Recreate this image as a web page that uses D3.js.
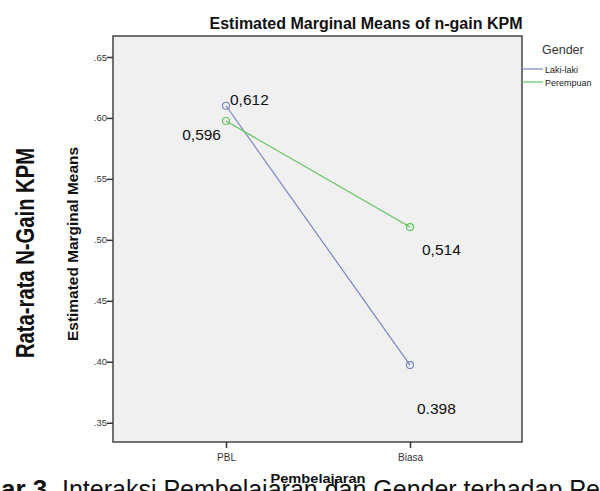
<!DOCTYPE html>
<html><head><meta charset="utf-8">
<script src="https://cdn.jsdelivr.net/npm/d3@7"></script>
<style>body{margin:0;background:#fff;}svg{display:block;font-family:"Liberation Sans",Arial,sans-serif;}</style>
</head><body><svg id="c" width="600" height="491"></svg>
<script>
const categories = ["PBL", "Biasa"];
const seriesNames = ["Laki-laki", "Perempuan"];
const lakiValues = [0.610, 0.3973];
const perempuanValues = [0.5975, 0.5105];
const lakiLabels = ["0,612", "0.398"];
const perempuanLabels = ["0,596", "0,514"];
const yTicks = [0.35, 0.40, 0.45, 0.50, 0.55, 0.60, 0.65];
const colors = ["#7a85c3", "#5fc45f"];

const svg = d3.select("#c");
const L = 113, R = 522, T = 36, B = 442;
const y = d3.scaleLinear().domain([0.3342, 0.6672]).range([B, T]);
const x = d3.scalePoint().domain(categories).range([226, 410]);

svg.append("rect").attr("x", L).attr("y", T).attr("width", R - L).attr("height", B - T)
  .attr("fill", "#f0f0f0").attr("stroke", "#444").attr("stroke-width", 1.5);

const yAxis = svg.append("g").attr("transform", `translate(${L},0)`)
  .call(d3.axisLeft(y).tickValues(yTicks).tickSize(6).tickFormat(d => d3.format(".2f")(d).replace(/^0/, "")));
yAxis.select(".domain").remove();
yAxis.selectAll("line").attr("stroke", "#333").attr("stroke-width", 1.5);
yAxis.selectAll("text").attr("font-size", 9.5).attr("fill", "#333").attr("x", -6);

const xAxis = svg.append("g").attr("transform", `translate(0,${B})`)
  .call(d3.axisBottom(x).tickSize(6));
xAxis.select(".domain").remove();
xAxis.selectAll("line").attr("stroke", "#333").attr("stroke-width", 1.5);
xAxis.selectAll("text").attr("font-size", 10).attr("fill", "#333").attr("dy", "0.95em");

const series = [lakiValues, perempuanValues];
const line = d3.line().x((d, i) => x(categories[i])).y(d => y(d));
series.forEach((vals, s) => {
  svg.append("path").datum(vals).attr("d", line).attr("fill", "none")
    .attr("stroke", colors[s]).attr("stroke-width", 1.2);
  svg.selectAll(null).data(vals).enter().append("circle")
    .attr("cx", (d, i) => x(categories[i])).attr("cy", d => y(d)).attr("r", 3.5)
    .attr("fill", "none").attr("stroke", colors[s]).attr("stroke-width", 1.2);
});

// value labels
const lab = (t, px, py, anchor) => svg.append("text").text(t).attr("x", px).attr("y", py)
  .attr("font-size", 15.5).attr("fill", "#111").attr("text-anchor", anchor || "start");
lab(lakiLabels[0], x("PBL") + 4, y(lakiValues[0]) - 1);
lab(perempuanLabels[0], x("PBL") - 5, y(perempuanValues[0]) + 19, "end");
lab(perempuanLabels[1], x("Biasa") + 12, y(perempuanValues[1]) + 28);
lab(lakiLabels[1], x("Biasa") + 7, y(lakiValues[1]) + 49);

// title
svg.append("text").text("Estimated Marginal Means of n-gain KPM").attr("x", 366).attr("y", 29)
  .attr("text-anchor", "middle").attr("font-size", 16).attr("font-weight", "bold").attr("fill", "#111");

// legend
svg.append("text").text("Gender").attr("x", 542).attr("y", 54).attr("font-size", 12.5).attr("fill", "#333");
seriesNames.forEach((n, i) => {
  const ly = 69 + i * 13;
  svg.append("line").attr("x1", R).attr("x2", R + 21).attr("y1", ly).attr("y2", ly)
    .attr("stroke", colors[i]).attr("stroke-width", 1.2);
  svg.append("text").text(n).attr("x", R + 23).attr("y", ly + 3.5).attr("font-size", 9).attr("fill", "#222");
});

// axis titles
svg.append("text").text("Estimated Marginal Means").attr("transform", "translate(77.5,244) rotate(-90)")
  .attr("text-anchor", "middle").attr("font-size", 14).attr("font-weight", "bold").attr("fill", "#111")
  .attr("textLength", 194).attr("lengthAdjust", "spacingAndGlyphs");
svg.append("text").text("Rata-rata N-Gain KPM").attr("transform", "translate(33.5,253) rotate(-90)")
  .attr("text-anchor", "middle").attr("font-size", 25).attr("font-weight", "bold").attr("fill", "#111")
  .attr("textLength", 210).attr("lengthAdjust", "spacingAndGlyphs");

// caption (cut off at bottom edge)
svg.append("text").text("ar 3.").attr("x", 1).attr("y", 498).attr("font-size", 26)
  .attr("font-weight", "bold").attr("fill", "#111");
svg.append("text").text("Interaksi Pembelajaran dan Gender terhadap Pe").attr("x", 62).attr("y", 498)
  .attr("font-size", 25).attr("fill", "#111");

svg.append("text").text("Pembelajaran").attr("x", 318).attr("y", 483).attr("text-anchor", "middle")
  .attr("font-size", 12).attr("font-weight", "bold").attr("fill", "#111")
  .attr("textLength", 95).attr("lengthAdjust", "spacingAndGlyphs");
</script></body></html>
